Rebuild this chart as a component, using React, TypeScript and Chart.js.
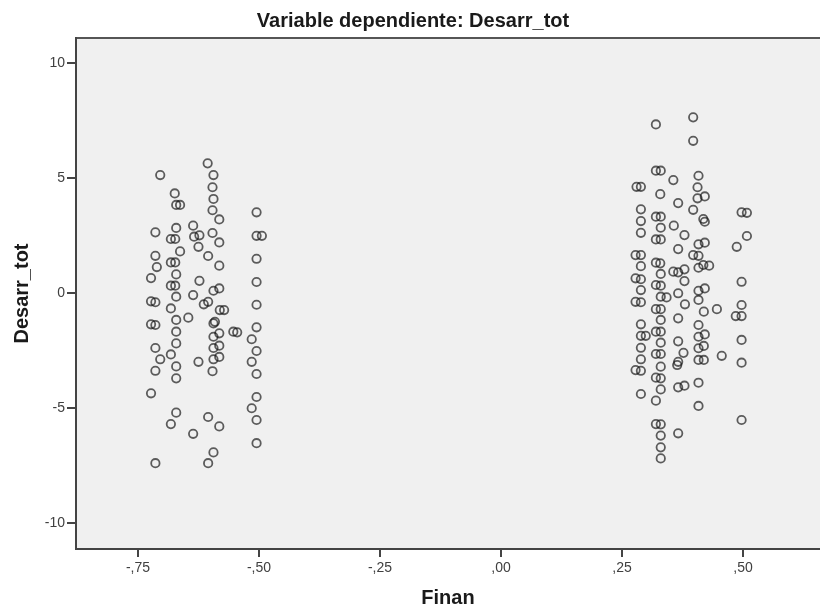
import { useEffect, useRef } from "react";
import { Chart, registerables } from "chart.js";

Chart.register(...registerables);

const chartTitle = "Variable dependiente: Desarr_tot";
const xTitle = "Finan";
const yTitle = "Desarr_tot";
const xTicks = [-0.75, -0.5, -0.25, 0, 0.25, 0.5];
const yTicks = [-10, -5, 0, 5, 10];
const xRange = [-0.878, 0.659];
const yRange = [-11.13, 11.09];

const finanNeg = [
  -0.606, -0.704, -0.594, -0.596, -0.674, -0.671, -0.663, -0.594, -0.596, -0.582,
  -0.505, -0.714, -0.671, -0.636, -0.682, -0.673, -0.634, -0.623, -0.596, -0.582,
  -0.505, -0.494, -0.625, -0.663, -0.714, -0.711, -0.682, -0.673, -0.605, -0.582,
  -0.505, -0.723, -0.671, -0.623, -0.682, -0.673, -0.594, -0.582, -0.505, -0.723,
  -0.714, -0.671, -0.636, -0.614, -0.605, -0.505, -0.682, -0.581, -0.572,
  -0.723, -0.714, -0.671, -0.646, -0.594, -0.591, -0.671, -0.594, -0.582, -0.553,
  -0.545, -0.505, -0.671, -0.714, -0.594, -0.582, -0.515, -0.505, -0.682, -0.704,
  -0.625, -0.594, -0.582, -0.515, -0.714, -0.671, -0.596, -0.505, -0.671, -0.723,
  -0.505, -0.515, -0.671, -0.505, -0.682, -0.605, -0.582, -0.636, -0.505, -0.594,
  -0.714, -0.605,
];
const desarrNeg = [
  5.64, 5.13, 5.13, 4.6, 4.33, 3.83, 3.83, 4.09, 3.6, 3.2,
  3.51, 2.64, 2.83, 2.93, 2.35, 2.35, 2.45, 2.51, 2.61, 2.2,
  2.49, 2.49, 2.01, 1.81, 1.62, 1.13, 1.33, 1.33, 1.61, 1.19,
  1.49, 0.65, 0.81, 0.53, 0.32, 0.32, 0.1, 0.2, 0.48, -0.36,
  -0.4, -0.16, -0.09, -0.49, -0.38, -0.51, -0.67, -0.74, -0.74,
  -1.36, -1.39, -1.17, -1.07, -1.32, -1.25, -1.68, -1.9, -1.75, -1.68,
  -1.71, -1.49, -2.19, -2.39, -2.39, -2.29, -2.01, -2.52, -2.67, -2.88,
  -2.99, -2.88, -2.78, -2.99, -3.38, -3.19, -3.4, -3.52, -3.71, -4.36,
  -4.52, -5.01, -5.2, -5.52, -5.7, -5.39, -5.8, -6.12, -6.53, -6.93,
  -7.4, -7.4,
];
const finanPos = [
  0.32, 0.397, 0.397, 0.32, 0.33, 0.356, 0.408, 0.28, 0.289, 0.329,
  0.406, 0.406, 0.421, 0.366, 0.289, 0.397, 0.289, 0.32, 0.33, 0.418,
  0.421, 0.497, 0.508, 0.33, 0.357, 0.289, 0.379, 0.508, 0.487, 0.32,
  0.33, 0.408, 0.421, 0.366, 0.278, 0.289, 0.397, 0.408, 0.289, 0.32,
  0.329, 0.418, 0.43, 0.408, 0.33, 0.356, 0.366, 0.379, 0.278, 0.289,
  0.379, 0.497, 0.289, 0.32, 0.33, 0.408, 0.421, 0.366,
  0.278, 0.289, 0.32, 0.33, 0.33, 0.342, 0.38, 0.408, 0.419, 0.446,
  0.485, 0.497, 0.497, 0.33, 0.366, 0.289, 0.408, 0.289, 0.299, 0.32,
  0.33, 0.408, 0.421, 0.33, 0.366, 0.497, 0.289, 0.408, 0.419, 0.377,
  0.32, 0.33, 0.289, 0.366, 0.364, 0.408, 0.419, 0.456, 0.497, 0.33,
  0.278, 0.289, 0.32, 0.33, 0.408, 0.33, 0.366, 0.379, 0.289, 0.32,
  0.408, 0.497, 0.32, 0.33, 0.366, 0.33, 0.33, 0.33,
];
const desarrPos = [
  7.33, 7.64, 6.62, 5.32, 5.32, 4.91, 5.1, 4.62, 4.62, 4.3,
  4.6, 4.12, 4.2, 3.91, 3.64, 3.62, 3.13, 3.32, 3.32, 3.22,
  3.1, 3.51, 3.49, 2.84, 2.93, 2.62, 2.52, 2.48, 2.01, 2.33,
  2.33, 2.12, 2.19, 1.91, 1.65, 1.65, 1.65, 1.62, 1.17, 1.32,
  1.29, 1.22, 1.19, 1.1, 0.83, 0.93, 0.9, 1.03, 0.64, 0.6,
  0.52, 0.49, 0.13, 0.35, 0.32, 0.1, 0.2, -0.01,
  -0.38, -0.4, -0.7, -0.7, -0.16, -0.19, -0.49, -0.3, -0.81, -0.7,
  -1.0, -1.0, -0.52, -1.17, -1.1, -1.36, -1.39, -1.86, -1.86, -1.68,
  -1.68, -1.9, -1.8, -2.16, -2.1, -2.04, -2.38, -2.4, -2.3, -2.6,
  -2.65, -2.65, -2.88, -2.99, -3.13, -2.91, -2.91, -2.73, -3.03, -3.2,
  -3.35, -3.38, -3.68, -3.71, -3.9, -4.19, -4.1, -4.03, -4.39, -4.68,
  -4.91, -5.52, -5.7, -5.71, -6.1, -6.2, -6.71, -7.19,
];

const FONT = "'Liberation Sans', Arial, sans-serif";

function fmtX(v: number): string {
  const s = Math.abs(v).toFixed(2).replace(/^0\./, ",");
  return v < 0 ? "-" + s : s;
}

export default function App() {
  const ref = useRef<HTMLCanvasElement>(null);

  useEffect(() => {
    document.body.style.margin = "0";
    document.body.style.overflow = "hidden";
    const points = [
      ...finanNeg.map((x, i) => ({ x, y: desarrNeg[i] })),
      ...finanPos.map((x, i) => ({ x, y: desarrPos[i] })),
    ];

    const plotBg = {
      id: "plotBg",
      beforeDraw(chart: any) {
        const { ctx, chartArea: a } = chart;
        ctx.save();
        ctx.fillStyle = "#f0f0f0";
        ctx.fillRect(a.left, a.top, a.right - a.left, a.bottom - a.top);
        ctx.strokeStyle = "#555555";
        ctx.lineWidth = 2;
        ctx.beginPath();
        ctx.moveTo(a.left, a.top);
        ctx.lineTo(a.right, a.top);
        ctx.stroke();
        ctx.restore();
      },
    };

    const chart = new Chart(ref.current as HTMLCanvasElement, {
      type: "scatter",
      data: {
        datasets: [
          {
            data: points,
            pointRadius: 4.2,
            pointHoverRadius: 4.2,
            pointBorderWidth: 1.8,
            borderColor: "rgba(20,20,20,0.68)",
            pointBorderColor: "rgba(20,20,20,0.68)",
            backgroundColor: "rgba(0,0,0,0)",
            pointBackgroundColor: "rgba(0,0,0,0)",
          },
        ],
      },
      options: {
        animation: false,
        responsive: false,
        devicePixelRatio: 1,
        layout: { padding: 0 },
        events: [],
        plugins: {
          legend: { display: false },
          tooltip: { enabled: false },
          title: {
            display: true,
            text: chartTitle,
            color: "#1a1a1a",
            font: { family: FONT, size: 20, weight: "bold", lineHeight: 1.2 },
            padding: { top: 9, bottom: 5 },
          },
        },
        scales: {
          x: {
            type: "linear",
            min: xRange[0],
            max: xRange[1],
            afterBuildTicks: (s: any) => {
              s.ticks = xTicks.map((v) => ({ value: v }));
            },
            afterFit: (s: any) => {
              s.height = 60;
              s.paddingLeft = 0;
              s.paddingRight = 0;
            },
            grid: {
              drawOnChartArea: false,
              drawTicks: true,
              tickLength: 8,
              color: "#444444",
              lineWidth: 2,
            },
            border: { display: true, color: "#444444", width: 2 },
            ticks: {
              padding: 3,
              color: "#404040",
              font: { family: FONT, size: 14 },
              maxRotation: 0,
              callback: (v: any) => fmtX(Number(v)),
            },
            title: {
              display: true,
              text: xTitle,
              color: "#1a1a1a",
              font: { family: FONT, size: 20, weight: "bold", lineHeight: 1 },
              padding: { top: 0, bottom: 1 },
            },
          },
          y: {
            type: "linear",
            min: yRange[0],
            max: yRange[1],
            afterBuildTicks: (s: any) => {
              s.ticks = yTicks.map((v) => ({ value: v }));
            },
            afterFit: (s: any) => {
              s.width = 76;
              s.paddingTop = 0;
              s.paddingBottom = 0;
            },
            grid: {
              drawOnChartArea: false,
              drawTicks: true,
              tickLength: 9,
              color: "#444444",
              lineWidth: 2,
            },
            border: { display: true, color: "#444444", width: 2 },
            ticks: {
              padding: 2,
              color: "#404040",
              font: { family: FONT, size: 14 },
              callback: (v: any) => String(v),
            },
            title: {
              display: true,
              text: yTitle,
              color: "#1a1a1a",
              font: { family: FONT, size: 20, weight: "bold", lineHeight: 1 },
              padding: { top: 12, bottom: 0 },
            },
          },
        },
      },
      plugins: [plotBg],
    } as any);

    return () => chart.destroy();
  }, []);

  return (
    <div style={{ width: 820, height: 609, overflow: "hidden" }}>
      <canvas
        ref={ref}
        width={826}
        height={609}
        style={{ display: "block", width: 826, height: 609 }}
      />
    </div>
  );
}
